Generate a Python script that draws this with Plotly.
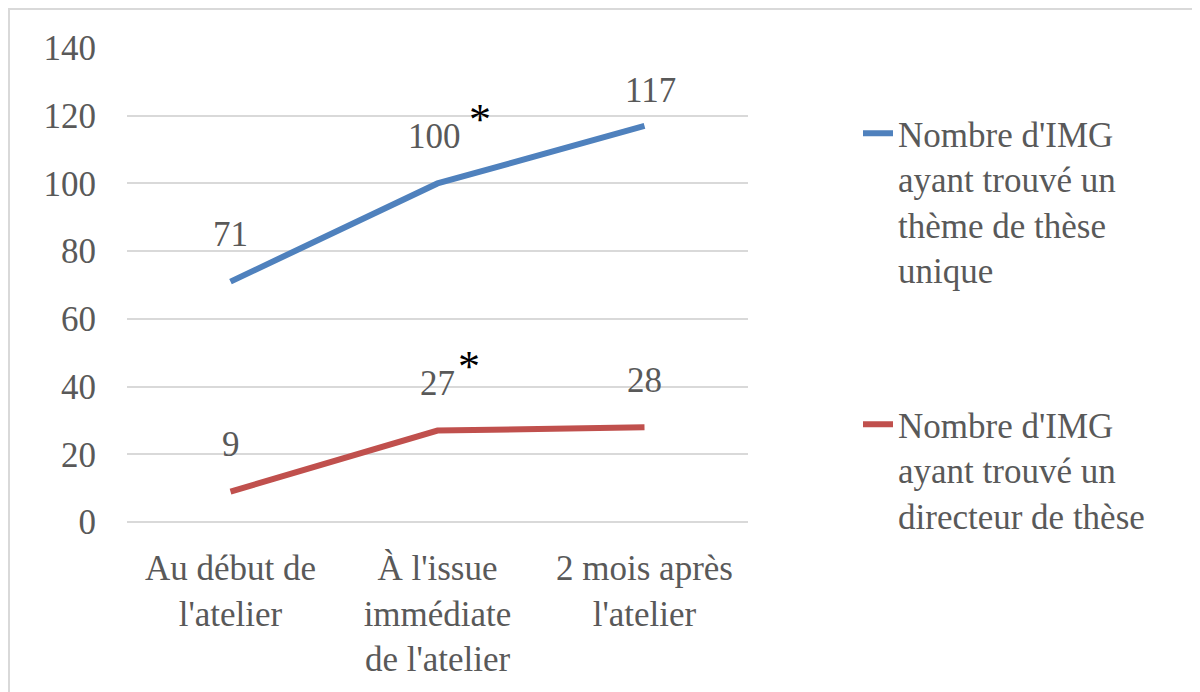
import plotly.graph_objects as go

# categories and series
categories = ["Au début de<br>l'atelier", "À l'issue<br>immédiate<br>de l'atelier", "2 mois après<br>l'atelier"]
theme_unique = [71, 100, 117]
directeur = [9, 27, 28]
theme_labels = ["71", "100", "117"]
directeur_labels = ["9", "27", "28"]
starred = [False, True, False]
y_ticks = [0, 20, 40, 60, 80, 100, 120, 140]

names = ["Nombre d'IMG<br>ayant trouvé un<br>thème de thèse<br>unique",
         "Nombre d'IMG<br>ayant trouvé un<br>directeur de thèse"]
colors = ["#4F81BD", "#C0504D"]

FONT = "Liberation Serif"
FS = 35
GREY = "#595959"

# plot area in figure pixels
L, R, T, B = 119, 740, 40, 514
W, H = 1200, 692
pw, ph = R - L, B - T

# label offsets (x, y) in px, per series
label_offsets = [[(0, 47), (-3, 47), (6, 35)],
                 [(0, 47), (0, 47), (0, 47)]]

fig = go.Figure()
for vals, name, col, grp in zip([theme_unique, directeur], names, colors, ["a", "b"]):
    fig.add_trace(go.Scatter(x=categories, y=vals, mode="lines", name=name,
                             legendgroup=grp,
                             line=dict(color=col, width=6)))

# data labels (asterisk marks significant change)
for s, (vals, labels) in enumerate([(theme_unique, theme_labels), (directeur, directeur_labels)]):
    for i, (v, lab) in enumerate(zip(vals, labels)):
        dx, dy = label_offsets[s][i]
        fig.add_annotation(x=categories[i], y=v, text=lab, showarrow=False,
                           yanchor="middle", yshift=dy, xshift=dx,
                           font=dict(family=FONT, size=FS, color=GREY))
        if starred[i]:
            fig.add_annotation(x=categories[i], y=v, text="*", showarrow=False,
                               yanchor="middle", yshift=64, xshift=11 * len(lab) + 9,
                               font=dict(family=FONT, size=44, color="black"))

# light frame around the chart
fig.add_shape(type="rect", xref="paper", yref="paper",
              x0=(1 - L) / pw, x1=(W + 10 - L) / pw,
              y0=(B - H - 10) / ph, y1=(B - 1) / ph,
              line=dict(color="#D9D9D9", width=2), layer="below")

fig.update_layout(
    width=W, height=H,
    margin=dict(l=L, r=W - R, t=T, b=H - B, autoexpand=False),
    paper_bgcolor="white", plot_bgcolor="white",
    font=dict(family=FONT, size=FS, color=GREY),
    showlegend=True,
    legend=dict(x=(850 - L) / pw, y=(B - 96) / ph, xanchor="left", yanchor="top",
                valign="top", tracegroupgap=106,
                font=dict(family=FONT, size=FS, color=GREY)),
)
fig.update_xaxes(range=[-0.5, 2.5], showgrid=False, showline=False, ticks="",
                 ticklabelstandoff=22,
                 tickfont=dict(family=FONT, size=FS, color=GREY))
fig.update_yaxes(range=[0, 140], tickvals=y_ticks, showgrid=True,
                 gridcolor="#D9D9D9", gridwidth=2, zeroline=True,
                 zerolinecolor="#D9D9D9", zerolinewidth=2,
                 showline=False, ticks="", ticklabelstandoff=30,
                 tickfont=dict(family=FONT, size=FS, color=GREY))

fig.write_html("out.html")
